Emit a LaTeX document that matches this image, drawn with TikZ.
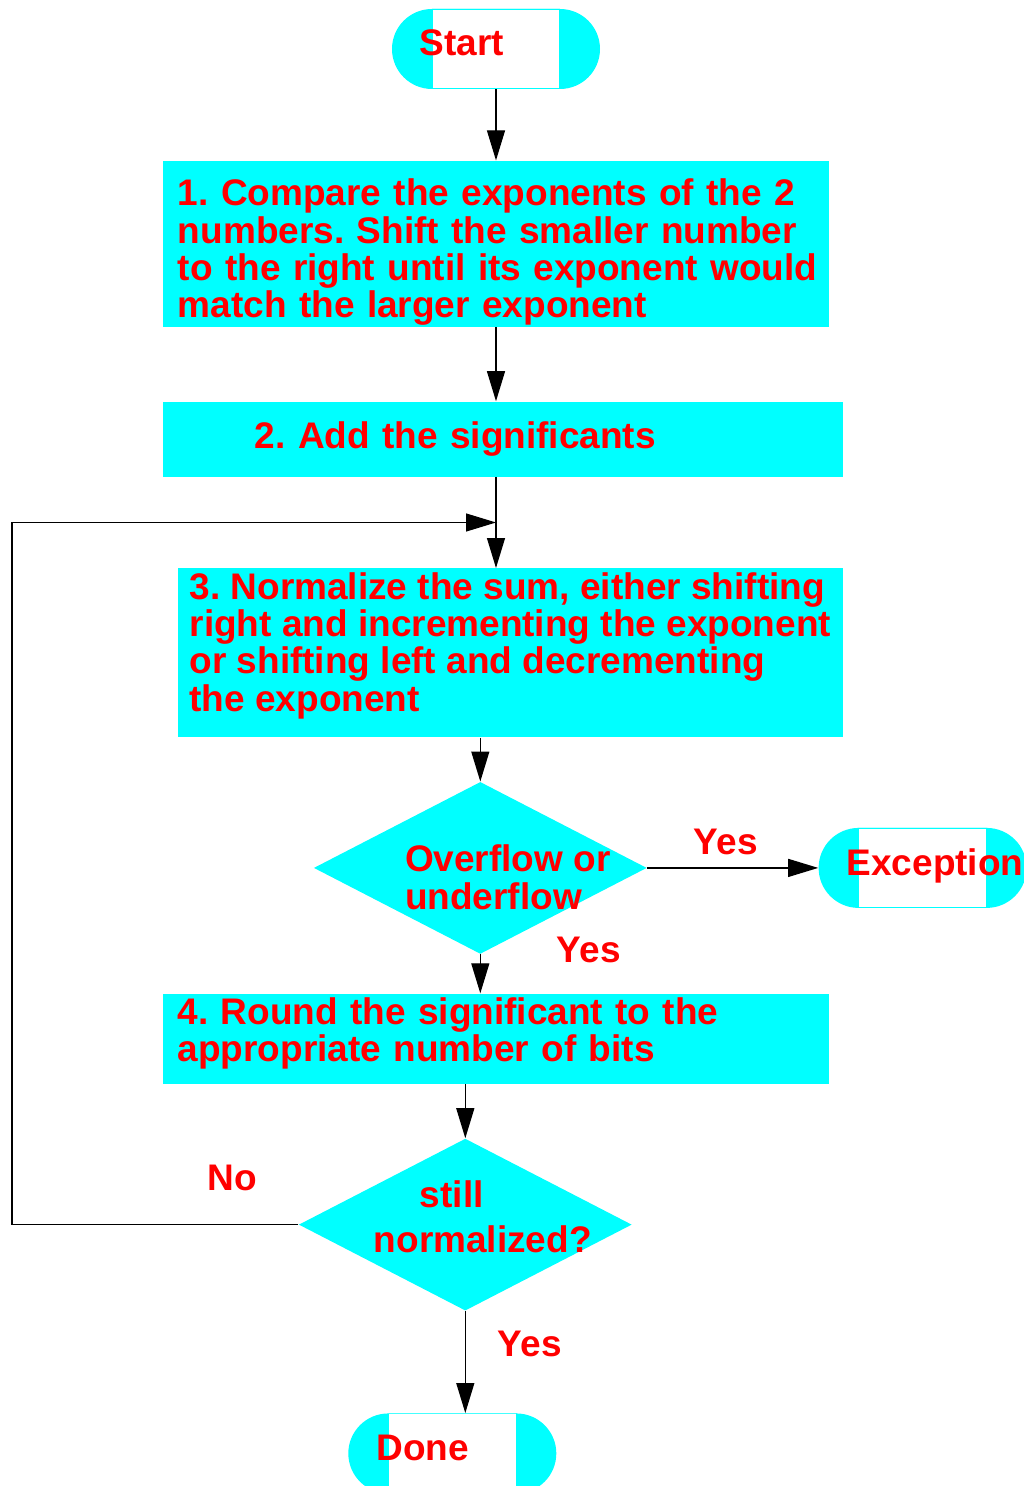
\documentclass[tikz,border=0pt]{standalone}
\usepackage{fontspec}
\setmainfont{Liberation Sans}
\usetikzlibrary{positioning,shapes.geometric,arrows.meta}
\definecolor{aqua}{RGB}{0,255,255}
\definecolor{labelred}{RGB}{255,0,0}
\frenchspacing

\begin{document}
\begin{tikzpicture}[node distance=30pt,
  font=\fontsize{18.5pt}{18.65pt}\selectfont\bfseries,
  every node/.append style={text=labelred},
  terminal/.style={rectangle, rounded corners=20pt, fill=aqua, minimum width=104pt, minimum height=40pt,
    text width=76pt, inner xsep=14pt, inner ysep=0pt, align=left,
    execute at end node={\rule[-6pt]{0pt}{0pt}},
    path picture={\draw[aqua, sharp corners, line width=0.8pt, fill=white] ([xshift=20pt]path picture bounding box.south west) rectangle ([xshift=-20pt]path picture bounding box.north east);}},
  procbox/.style={rectangle, fill=aqua, inner xsep=7.5pt, inner ysep=2pt, align=left},
  decision/.style={diamond, fill=aqua, inner sep=0pt, minimum width=166.5pt, minimum height=86pt},
  answer/.style={inner sep=0pt},
  flow/.style={draw, line width=0.6pt, -{Triangle[length=15pt, width=9pt]}}]
  \useasboundingbox (-248pt,24.5pt) rectangle (263.5pt,-718.5pt);

  \node[terminal] (start) {Start};
  \node[procbox, inner ysep=0pt, text width=318pt, minimum height=83pt, below=35.5pt of start] (compare) {\rule{0pt}{22pt}1. Compare the exponents of the 2\\numbers. Shift the smaller number\\\mbox{to the right until its exponent would}\\match the larger exponent};
  \node[procbox, text width=325pt, minimum height=37.5pt, below=37pt of compare.south west, anchor=north west] (add) {\hspace*{38.5pt}2. Add the significants};
  \node[procbox, inner xsep=6pt, minimum width=332.5pt, minimum height=83.5pt, below=45.5pt of add.south east, anchor=north east] (normalize) {3. Normalize the sum, either shifting\\right and incrementing the exponent\\or shifting left and decrementing\\the exponent\rule[-11pt]{0pt}{0pt}};
  \node[decision, below=22pt of normalize.south, xshift=-15pt] (overflow) {};
  \node[align=left, xshift=13.75pt, yshift=-4.75pt] (overflowtext) at (overflow) {Overflow or\\underflow};
  \node[terminal, right=85.5pt of overflow] (exception) {Exception};
  \node[procbox, text width=318pt, minimum height=45pt, below=19.5pt of overflow.south, xshift=7.75pt] (round) {4. Round the significant to the\\appropriate number of bits\rule[-9pt]{0pt}{0pt}};
  \node[decision, below=27pt of round.south, xshift=-15.25pt] (normalized) {};
  \node[align=center, xshift=8.75pt, yshift=4pt] (normalizedtext) at (normalized) {still\hspace*{31pt}\\[3.5pt]normalized?};
  \node[terminal, below=51pt of normalized.south, xshift=-6.5pt] (done) {Done};

  \draw[flow] (start.south -| compare.north) -- (compare.north);
  \draw[flow] (compare.south) -- (compare.south |- add.north);
  \draw[flow] (add.south -| compare.south) -- coordinate[midway] (merge) (normalize.north -| compare.south);
  \draw[flow] (overflow.north |- normalize.south) -- (overflow.north);
  \draw[flow] (overflow.east) -- node[answer, above=6pt, pos=0.46] (yes1) {Yes} (exception.west);
  \draw[flow] (overflow.south) -- node[answer, right=38pt, pos=0, yshift=2pt] (yes2) {Yes} (overflow.south |- round.north);
  \draw[flow] (normalized.north |- round.south) -- (normalized.north);
  \draw[flow] (normalized.south) -- node[answer, right=16pt, pos=0.32] (yes3) {Yes} (normalized.south |- done.north);
  \coordinate[left=242pt of merge] (loop);
  \draw[flow] (normalized.west) -- node[answer, above=16.5pt, pos=0.23] (no) {No} (normalized.west -| loop) -- (loop) -- (merge);
\end{tikzpicture}
\end{document}
